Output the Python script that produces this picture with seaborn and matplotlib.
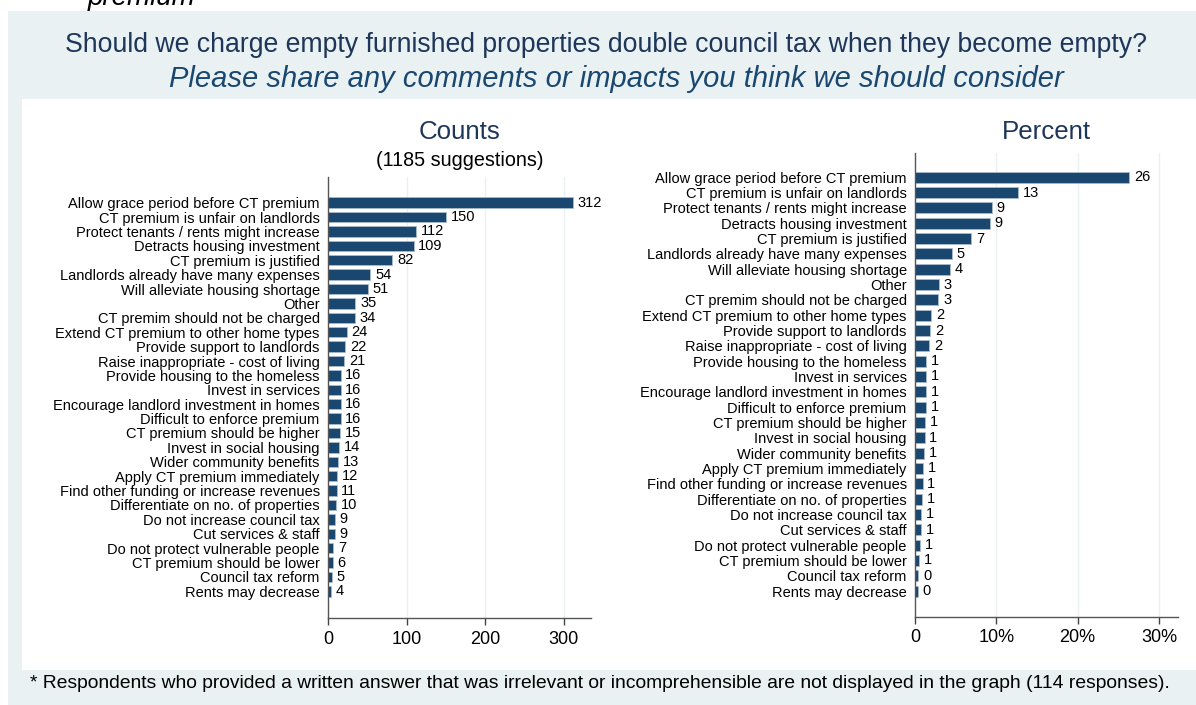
import matplotlib
matplotlib.use("Agg")
import matplotlib.pyplot as plt
from matplotlib import font_manager
from matplotlib.ticker import FuncFormatter
from matplotlib.patches import Rectangle
import seaborn as sns
import pandas as pd

# Data
categories = [
    "Allow grace period before CT premium",
    "CT premium is unfair on landlords",
    "Protect tenants / rents might increase",
    "Detracts housing investment",
    "CT premium is justified",
    "Landlords already have many expenses",
    "Will alleviate housing shortage",
    "Other",
    "CT premim should not be charged",
    "Extend CT premium to other home types",
    "Provide support to landlords",
    "Raise inappropriate - cost of living",
    "Provide housing to the homeless",
    "Invest in services",
    "Encourage landlord investment in homes",
    "Difficult to enforce premium",
    "CT premium should be higher",
    "Invest in social housing",
    "Wider community benefits",
    "Apply CT premium immediately",
    "Find other funding or increase revenues",
    "Differentiate on no. of properties",
    "Do not increase council tax",
    "Cut services & staff",
    "Do not protect vulnerable people",
    "CT premium should be lower",
    "Council tax reform",
    "Rents may decrease",
]
counts = [312, 150, 112, 109, 82, 54, 51, 35, 34, 24, 22, 21, 16, 16, 16, 16,
          15, 14, 13, 12, 11, 10, 9, 9, 7, 6, 5, 4]
total = 1185
count_ticks = [0, 100, 200, 300]
pct_ticks = [0, 10, 20, 30]

df = pd.DataFrame({"category": categories, "count": counts})
df["percent"] = df["count"] / total * 100

# Style
sns.set_theme(style="white")
plt.rcParams["font.family"] = ["Liberation Sans", "DejaVu Sans"]
names = {f.name for f in font_manager.fontManager.ttflist}
narrow = "Liberation Sans Narrow" if "Liberation Sans Narrow" in names else "Liberation Sans"
foot_size = 15.8 if narrow == "Liberation Sans Narrow" else 13.9

navy = "#1a476f"
title_col = "#1e3659"
bg = "#e9f1f3"
grid_col = "#eaf1f3"

W, H = 1196, 705
fig = plt.figure(figsize=(W / 100, H / 100), dpi=100)
fig.patch.set_facecolor("white")

# background panels (Stata-like)
fig.add_artist(Rectangle((8 / W, 0), 1 - 8 / W, 1 - 11 / H, transform=fig.transFigure,
                         facecolor=bg, edgecolor="none", zorder=-10))
fig.add_artist(Rectangle((22 / W, 35 / H), 1 - 22 / W, (670 - 99) / H, transform=fig.transFigure,
                         facecolor="white", edgecolor="none", zorder=-9))

# tail of the previous page's heading, cut off at the top as in the source
fig.text(88 / W, 1 - 5 / H, "premium", fontsize=20, style="italic", color="black",
         ha="left", va="baseline")
fig.text(0.507, 1 - 45 / H, "Should we charge empty furnished properties double council tax when they become empty?",
         fontsize=19.2, color=title_col, ha="center", va="center")
fig.text(0.515, 1 - 79 / H, "Please share any comments or impacts you think we should consider",
         fontsize=21, style="italic", color=navy, ha="center", va="center")
fig.text(30 / W, 1 - 683 / H,
         "* Respondents who provided a written answer that was irrelevant or incomprehensible are not displayed in the graph (114 responses).",
         fontsize=foot_size, family=[narrow, "DejaVu Sans"], color="black", ha="left", va="center")


def panel(ax, col, xmax, ticks, top_pad, bot_pad, fmt, labels):
    sns.barplot(data=df, y="category", x=col, order=categories, color=navy,
                edgecolor="#a9bccd", linewidth=0.6, width=0.72, saturation=1, ax=ax)
    n = len(categories)
    ax.set_ylim(n - 1 + bot_pad, -top_pad)
    ax.set_xlim(0, xmax)
    ax.set_xticks(ticks)
    ax.xaxis.set_major_formatter(FuncFormatter(fmt))
    for t in ticks[1:]:
        ax.axvline(t, color=grid_col, lw=1, zorder=0)
    for i, v in enumerate(df[col]):
        ax.text(v + xmax * 0.018, i, labels[i], va="center", ha="left", fontsize=10.5, color="black")
    ax.set_xlabel("")
    ax.set_ylabel("")
    ax.tick_params(axis="y", length=0, labelsize=10.5, pad=6, colors="black")
    ax.tick_params(axis="x", length=5, width=1, direction="out", labelsize=13, pad=4,
                   colors="#444444", labelcolor="black", bottom=True)
    for s in ["top", "right"]:
        ax.spines[s].set_visible(False)
    for s in ["left", "bottom"]:
        ax.spines[s].set_color("#555555")
        ax.spines[s].set_linewidth(1)
    ax.set_facecolor("white")


ax1 = fig.add_axes([328 / W, (H - 618) / H, 263 / W, 441 / H])
panel(ax1, "count", 335, count_ticks, 1.78, 1.85, lambda v, p: f"{v:.0f}",
      [str(c) for c in counts])
fig.text((328 + 131.5) / W, 1 - 132 / H, "Counts", fontsize=18.6, color=title_col,
         ha="center", va="center")
fig.text((328 + 131.5) / W, 1 - 161 / H, "(1185 suggestions)", fontsize=14.2,
         color="black", ha="center", va="center")

ax2 = fig.add_axes([915 / W, (H - 616.7) / H, 262.7 / W, 463.7 / H])
panel(ax2, "percent", 32.3, pct_ticks, 1.58, 1.67, lambda v, p: f"{v:.0f}%" if v else "0",
      [f"{p:.0f}" for p in df["percent"]])
fig.text((915 + 131.3) / W, 1 - 132 / H, "Percent", fontsize=18.6, color=title_col,
         ha="center", va="center")

fig.savefig("out.png", dpi=100, facecolor="white")
